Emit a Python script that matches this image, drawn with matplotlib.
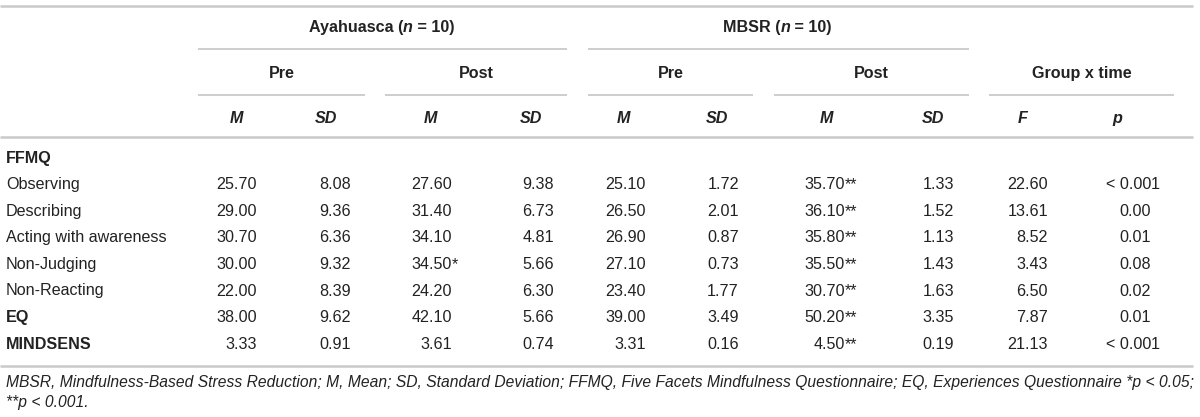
import matplotlib
matplotlib.use("Agg")
import matplotlib.pyplot as plt

plt.rcParams['font.family'] = ['Liberation Sans', 'DejaVu Sans']

# table data
row_labels = ["FFMQ", "Observing", "Describing", "Acting with awareness",
              "Non-Judging", "Non-Reacting", "EQ", "MINDSENS"]
bold_rows = ["FFMQ", "EQ", "MINDSENS"]

aya_pre_m = [None, 25.70, 29.00, 30.70, 30.00, 22.00, 38.00, 3.33]
aya_pre_sd = [None, 8.08, 9.36, 6.36, 9.32, 8.39, 9.62, 0.91]
aya_post_m = [None, 27.60, 31.40, 34.10, 34.50, 24.20, 42.10, 3.61]
aya_post_sd = [None, 9.38, 6.73, 4.81, 5.66, 6.30, 5.66, 0.74]
mbsr_pre_m = [None, 25.10, 26.50, 26.90, 27.10, 23.40, 39.00, 3.31]
mbsr_pre_sd = [None, 1.72, 2.01, 0.87, 0.73, 1.77, 3.49, 0.16]
mbsr_post_m = [None, 35.70, 36.10, 35.80, 35.50, 30.70, 50.20, 4.50]
mbsr_post_sd = [None, 1.33, 1.52, 1.13, 1.43, 1.63, 3.35, 0.19]
f_vals = [None, 22.60, 13.61, 8.52, 3.43, 6.50, 7.87, 21.13]
p_vals = [None, "< 0.001", "0.00", "0.01", "0.08", "0.02", "0.01", "< 0.001"]

aya_post_sig = ["", "", "", "", "*", "", "", ""]
mbsr_post_sig = ["", "**", "**", "**", "**", "**", "**", "**"]

groups = ["Ayahuasca", "MBSR"]
times = ["Pre", "Post", "Pre", "Post", "Group x time"]
stats = ["M", "SD", "M", "SD", "M", "SD", "M", "SD", "F", "p"]

caption1 = ("MBSR, Mindfulness-Based Stress Reduction; M, Mean; SD, Standard Deviation; "
            "FFMQ, Five Facets Mindfulness Questionnaire; EQ, Experiences Questionnaire *p < 0.05;")
caption2 = "**p < 0.001."

TXT = "#222222"
RULE = "#c9c9c9"
FS = 11.6

fig = plt.figure(figsize=(12, 4.17), dpi=100)
ax = fig.add_axes([0, 0, 1, 1])
ax.set_xlim(0, 1200)
ax.set_ylim(417, 0)
ax.axis("off")
fig.canvas.draw()
renderer = fig.canvas.get_renderer()


def text_width(s, **kw):
    t = ax.text(0, 0, "|" + s + "|", fontsize=FS, **kw)
    w1 = t.get_window_extent(renderer).width
    t.remove()
    t = ax.text(0, 0, "||", fontsize=FS, **kw)
    w0 = t.get_window_extent(renderer).width
    t.remove()
    return w1 - w0


def draw_runs(x, y, runs):
    widths = [text_width(s, **kw) for s, kw in runs]
    cx = x - sum(widths) / 2
    for (s, kw), w in zip(runs, widths):
        ax.text(cx, y, s, fontsize=FS, color=TXT, ha="left", va="center", **kw)
        cx += w


def rule(x0, x1, y, lw=1.3):
    ax.plot([x0, x1], [y, y], color=RULE, lw=lw, solid_capstyle="butt")


B = dict(weight="bold")
BI = dict(weight="bold", style="italic")

# horizontal rules
rule(0, 1193, 6, lw=1.8)
rule(0, 1193, 137, lw=1.8)
rule(0, 1193, 366, lw=1.8)
group_spans = [(198, 567), (588, 969)]
time_spans = [(198, 365), (385, 567), (588, 753), (774, 969), (989, 1174)]
for x0, x1 in group_spans:
    rule(x0, x1, 49)
for x0, x1 in time_spans:
    rule(x0, x1, 95)

# header text
for g, (x0, x1) in zip(groups, group_spans):
    draw_runs((x0 + x1) / 2 - 1, 27, [(g + " (", B), ("n", BI), (" = 10)", B)])
for t, (x0, x1) in zip(times, time_spans):
    draw_runs((x0 + x1) / 2, 73, [(t, B)])
stat_x = [236, 326, 430, 531, 623, 717, 826, 933, 1023, 1117]
for s, x in zip(stats, stat_x):
    draw_runs(x, 118, [(s, BI)])

# body
row_y = [158 + 26.6 * i for i in range(len(row_labels))]
for lab, y in zip(row_labels, row_y):
    kw = B if lab in bold_rows else {}
    ax.text(6, y, lab, fontsize=FS, color=TXT, ha="left", va="center", **kw)

right_x = [257, 351, 452, 554, 646, 739, 845, 954, 1048, 1151]
columns = [aya_pre_m, aya_pre_sd, aya_post_m, aya_post_sd,
           mbsr_pre_m, mbsr_pre_sd, mbsr_post_m, mbsr_post_sd, f_vals]
suffixes = [None, None, aya_post_sig, None, None, None, mbsr_post_sig, None, None]

for col, suf, rx in zip(columns, suffixes, right_x):
    for i, v in enumerate(col):
        if v is None:
            continue
        ax.text(rx, row_y[i], f"{v:.2f}", fontsize=FS, color=TXT,
                ha="right", va="center")
        if suf is not None and suf[i]:
            ax.text(rx, row_y[i], suf[i], fontsize=FS, color=TXT,
                    ha="left", va="center")

for i, p in enumerate(p_vals):
    if p is None:
        continue
    dot = p.index(".")
    main, extra = p[:dot + 3], p[dot + 3:]
    ax.text(right_x[9], row_y[i], main, fontsize=FS, color=TXT, ha="right", va="center")
    if extra:
        ax.text(right_x[9], row_y[i], extra, fontsize=FS, color=TXT, ha="left", va="center")

# caption, fitted to the table width
cw = text_width(caption1, style="italic")
cfs = FS * 1186 / cw
ax.text(6, 382, caption1, fontsize=cfs, style="italic", color=TXT, ha="left", va="center")
ax.text(6, 403, caption2, fontsize=cfs, style="italic", color=TXT, ha="left", va="center")

fig.savefig("out.png", dpi=100)
